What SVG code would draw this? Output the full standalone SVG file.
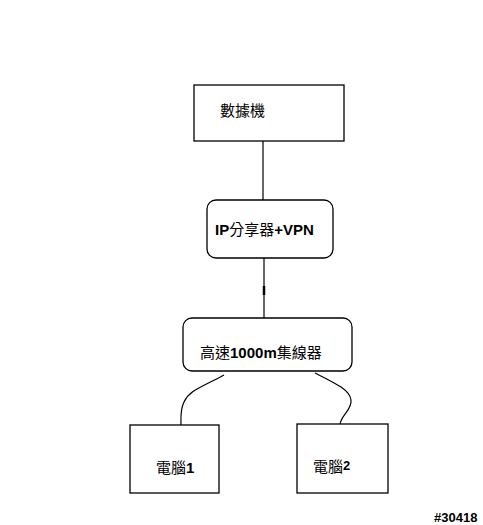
<svg xmlns="http://www.w3.org/2000/svg" width="483" height="525" viewBox="0 0 483 525">
<style>
.box{fill:#fff;stroke:#000;stroke-width:1.3}
.t{font-family:"Liberation Sans","Noto Sans CJK TC",sans-serif;font-size:15px;fill:#000}
.b{font-weight:bold}
.c{fill:none;stroke:#000;stroke-width:1.2}
</style>
<rect width="483" height="525" fill="#fff"/>
<g id="connectors">
<path class="c" d="M263 141 V200"/>
<path class="c" d="M264 258 V318"/>
<path d="M264 286 V295" stroke="#000" stroke-width="2.5"/>
<path class="c" d="M224 375 C200 388 190 390 184 402 C180 410 181 418 181 425"/>
<path class="c" d="M315 373 C335 383 350 390 351 400 C352 410 342 414 340 424"/>
</g>
<g id="modem">
<rect class="box" x="194" y="85" width="150" height="56"/>
<text class="t" x="220" y="116">數據機</text>
</g>
<g id="router">
<rect class="box" x="207" y="200" width="126" height="58" rx="9"/>
<text class="t" x="215" y="235"><tspan class="b">IP</tspan>分享器<tspan class="b">+VPN</tspan></text>
</g>
<g id="hub">
<rect class="box" x="183" y="318" width="169" height="53" rx="9"/>
<text class="t" x="200" y="358">高速<tspan class="b">1000m</tspan>集線器</text>
</g>
<g id="pc1">
<rect class="box" x="130" y="425" width="89" height="68"/>
<text class="t" x="156" y="473">電腦<tspan class="b">1</tspan></text>
</g>
<g id="pc2">
<rect class="box" x="297" y="424" width="91" height="69"/>
<text class="t" x="313" y="472">電腦<tspan class="b" font-size="13" dy="-2">2</tspan></text>
</g>
<text x="434" y="522" font-family="Liberation Sans,sans-serif" font-size="13" font-weight="bold" fill="#000">#30418</text>
</svg>
